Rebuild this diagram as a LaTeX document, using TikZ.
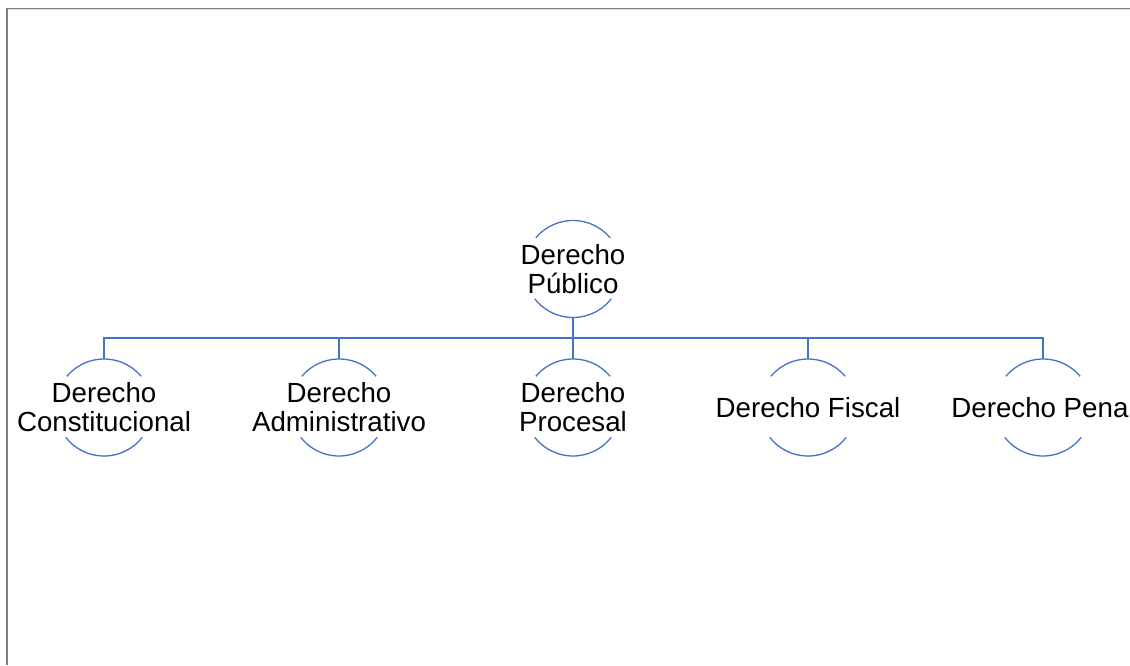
\documentclass[tikz,border=0pt]{standalone}
\usepackage{fontspec}
\setmainfont{Liberation Sans}
\begin{document}
\begin{tikzpicture}[x=1pt,y=1pt,
  ring/.style={circle,minimum size=97pt,inner sep=0pt,outer sep=0pt,draw=none},
  label/.style={align=center,inner sep=0pt,font=\fontsize{27.7}{29}\selectfont,text=black},
  arcline/.style={draw=arcblue,line width=1.3pt},
  conn/.style={draw=arcblue,line width=1.3pt},
  frameline/.style={draw=framegray,line width=1.6pt}]
\definecolor{arcblue}{HTML}{4472C4}
\definecolor{framegray}{HTML}{808080}
\useasboundingbox (0,0) rectangle (1130,665);
\clip (0,0) rectangle (1130,665);
% frame
\draw[frameline] (7,0) -- (7,656.5) -- (1130,656.5);
\draw[draw=black!12,line width=0.8pt] (8,655.2) -- (1130,655.2);
% circles (invisible anchors)
\node[ring] (pub) at (573,396) {};
\node[ring] (c1) at (104,257.5) {};
\node[ring] (c2) at (339,257.5) {};
\node[ring] (c3) at (573,257.5) {};
\node[ring] (c4) at (808,257.5) {};
\node[ring] (c5) at (1043,257.5) {};
\coordinate (bus) at (0,327);
% arcs
\foreach \n in {pub,c1,c2,c3,c4,c5}{
  \draw[arcline] (\n.40) arc[start angle=40,end angle=140,radius=48.5pt];
  \draw[arcline] (\n.218) arc[start angle=218,end angle=322,radius=48.5pt];
}
% labels
\node[label] (tpub) at (pub.center) {Derecho\\Público};
\node[label] (t1) at (c1.center) {Derecho\\Constitucional};
\node[label] (t2) at (c2.center) {Derecho\\Administrativo};
\node[label] (t3) at (c3.center) {Derecho\\Procesal};
\node[label] (t4) at (c4.center) {Derecho Fiscal};
\node[label] (t5) at (c5.center) {Derecho Penal};
% connectors
\draw[conn] (pub.south) -- (pub.south |- bus);
\draw[conn] (c1.north) -- (c1.north |- bus) -- (c5.north |- bus) -- (c5.north);
\draw[conn] (c2.north) -- (c2.north |- bus);
\draw[conn] (c3.north) -- (c3.north |- bus);
\draw[conn] (c4.north) -- (c4.north |- bus);
\end{tikzpicture}
\end{document}
